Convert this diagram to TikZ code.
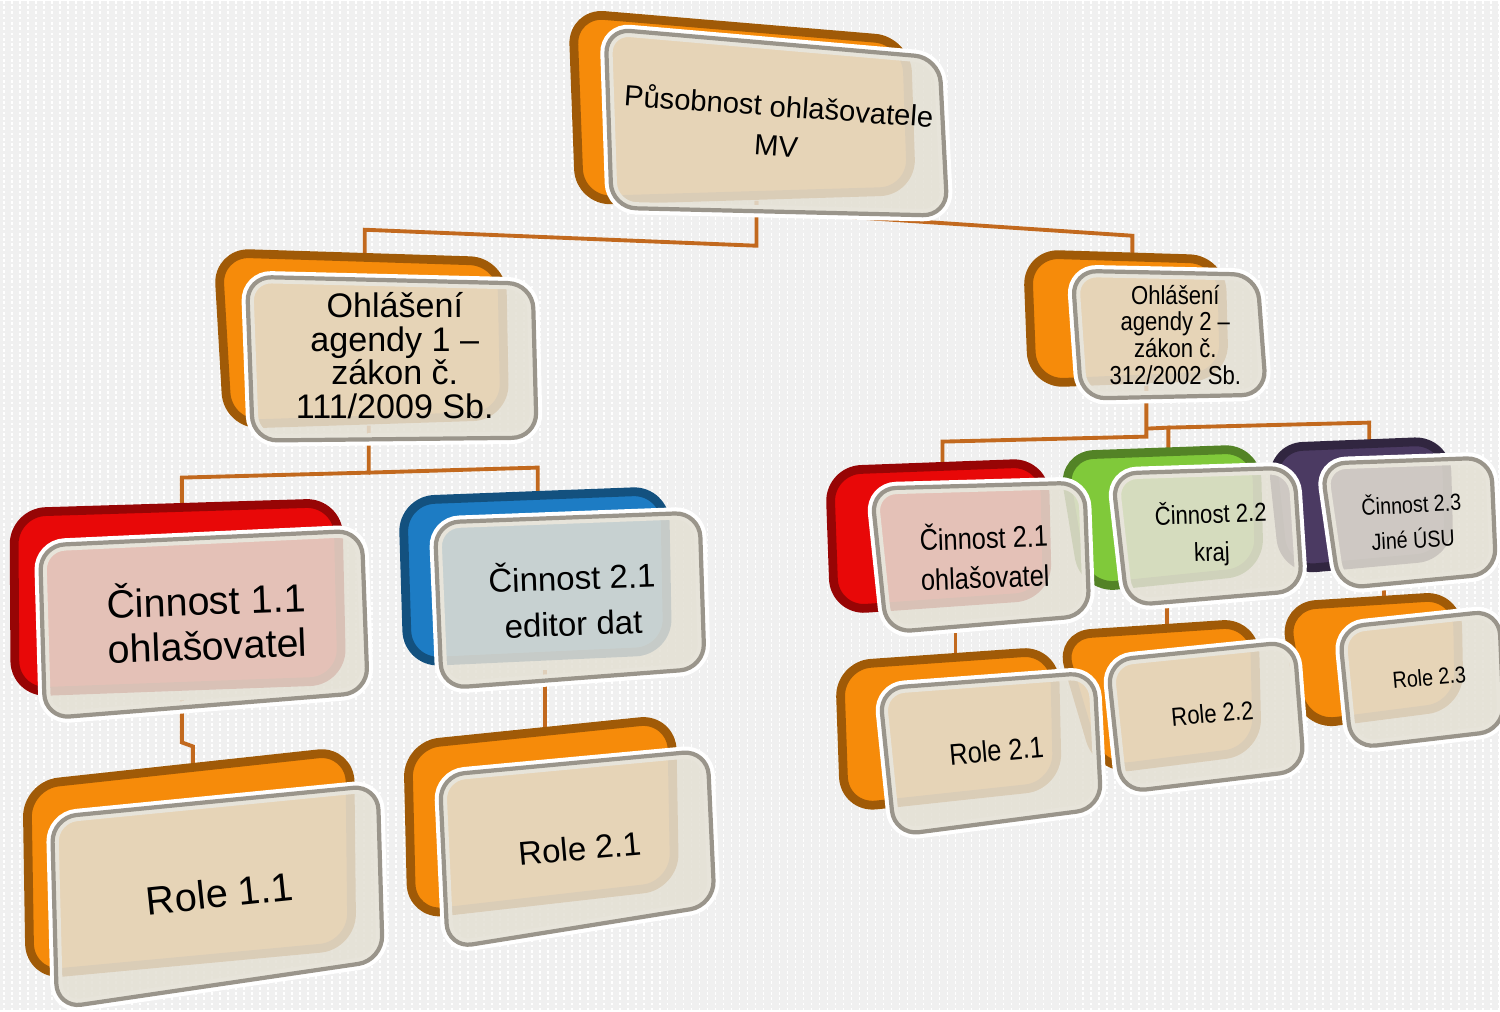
\documentclass[tikz,border=0pt]{standalone}
\usepackage{fontspec}
\setmainfont{Liberation Sans}
\newfontfamily\etroit[FakeStretch=0.85,Ligatures=TeX]{Liberation Sans}
\definecolor{fond}{HTML}{F0F0F0}
\definecolor{lien}{HTML}{C2691E}
\definecolor{orangeA}{HTML}{F68B0A}
\definecolor{rougeA}{HTML}{E80808}
\definecolor{bleuA}{HTML}{1D7CC4}
\definecolor{vertA}{HTML}{80C93A}
\definecolor{violetA}{HTML}{4B3A62}
\definecolor{beige}{HTML}{E4E0D4}
\definecolor{bord}{HTML}{9A958B}
\begin{document}
\begin{tikzpicture}[x=0.01cm,y=-0.01cm]
\tikzset{
  dos/.style={fill=#1, draw=#1!65!black, line width=2.5pt, rounded corners=9pt},
  face/.style={preaction={draw=white, line width=3.5pt}, fill=beige, fill opacity=0.86,
    draw=bord, line width=1.2pt, rounded corners=7pt},
  txt/.style={align=center, inner sep=0pt, text=black},
  trait/.style={draw=lien, line width=1.1pt},
}

 % le fond
  \fill[fond] (0,0) rectangle (1500,1010);
  \foreach \x in {4,12,...,1500}
    \draw[white, line width=0.5pt, dash pattern=on 0.8pt off 0.7pt] (\x,0) -- (\x,1010);
  \useasboundingbox (0,0) rectangle (1500,1010);

 % points d'attache
  \coordinate (root-b) at (757,200);
  \coordinate (agA-t) at (365,262);  \coordinate (agA-b) at (369,425);
  \coordinate (agB-t) at (1133,262); \coordinate (agB-b) at (1147,385);
  \coordinate (c11-t) at (182,515);  \coordinate (c11-b) at (182,700);
  \coordinate (c21-t) at (538,505);  \coordinate (c21-b) at (545,670);
  \coordinate (r11-t) at (193,775);  \coordinate (r21-t) at (545,740);
  \coordinate (d21-t) at (943,475);  \coordinate (d21-b) at (956,620);
  \coordinate (d22-t) at (1169,460); \coordinate (d22-b) at (1168,595);
  \coordinate (d23-t) at (1370,450); \coordinate (d23-b) at (1385,578);
  \coordinate (s21-t) at (956,665);  \coordinate (s22-t) at (1168,640);
  \coordinate (s23-t) at (1385,610);

 % les liens
  \draw[trait] (root-b) -- (757,245) -- (365,229) -- (agA-t);
  \draw[trait] (root-b) -- ++(0,10) -- (1133,235) -- (agB-t);
  \draw[trait] (agA-b) -- (369,472) -- (182,477) -- (c11-t);
  \draw[trait] (369,472) -- (538,467) -- (c21-t);
  \draw[trait] (c11-b) -- (182,742) -- (193,746) -- (r11-t);
  \draw[trait] (c21-b) -- (r21-t);
  \draw[trait] (agB-b) -- (1147,436) -- (943,441) -- (d21-t);
  \draw[trait] (1147,428) -- (1169,427) -- (d22-t);
  \draw[trait] (1169,427) -- (1370,422) -- (d23-t);
  \draw[trait] (d21-b) -- (s21-t);
  \draw[trait] (d22-b) -- (s22-t);
  \draw[trait] (d23-b) -- (s23-t);

 % dos colorés
  \filldraw[dos=orangeA] (573,12) -- (907,40) -- (912,190) -- (580,200) -- cycle;
  \filldraw[dos=orangeA] (218,252) -- (502,261) -- (505,415) -- (228,424) -- cycle;
  \filldraw[dos=orangeA] (1028,253) -- (1222,259) -- (1225,375) -- (1033,383) -- cycle;
  \filldraw[dos=rougeA] (14,512) -- (338,502) -- (342,680) -- (15,692) -- cycle;
  \filldraw[dos=bleuA] (403,500) -- (665,490) -- (668,650) -- (408,662) -- cycle;
  \filldraw[dos=orangeA] (27,785) -- (350,750) -- (352,945) -- (30,975) -- cycle;
  \filldraw[dos=orangeA] (408,745) -- (672,718) -- (675,885) -- (412,915) -- cycle;
  \filldraw[dos=rougeA] (830,470) -- (1045,462) -- (1048,595) -- (835,610) -- cycle;
  \filldraw[dos=vertA] (1063,455) -- (1257,448) -- (1260,570) -- (1085,588) -- cycle;
  \filldraw[dos=violetA] (1272,447) -- (1447,440) -- (1450,555) -- (1285,570) -- cycle;
  \filldraw[dos=orangeA] (840,665) -- (1055,650) -- (1058,785) -- (845,808) -- cycle;
  \filldraw[dos=orangeA] (1060,635) -- (1255,622) -- (1258,750) -- (1100,770) -- cycle;
  \filldraw[dos=orangeA] (1285,606) -- (1458,595) -- (1460,705) -- (1305,725) -- cycle;

 % faces claires
  \filldraw[face] (606,28) -- (940,57) -- (948,215) -- (612,207) -- cycle;
  \filldraw[face] (247,276) -- (533,283) -- (537,437) -- (253,440) -- cycle;
  \filldraw[face] (1073,270) -- (1258,274) -- (1267,394) -- (1082,398) -- cycle;
  \filldraw[face] (40,545) -- (362,530) -- (368,692) -- (45,718) -- cycle;
  \filldraw[face] (435,522) -- (700,512) -- (705,668) -- (442,688) -- cycle;
  \filldraw[face] (52,817) -- (378,785) -- (383,960) -- (57,1008) -- cycle;
  \filldraw[face] (440,775) -- (708,750) -- (715,905) -- (448,948) -- cycle;
  \filldraw[face] (872,488) -- (1085,482) -- (1090,615) -- (887,632) -- cycle;
  \filldraw[face] (1113,473) -- (1295,467) -- (1303,590) -- (1128,605) -- cycle;
  \filldraw[face] (1322,463) -- (1492,457) -- (1497,573) -- (1340,588) -- cycle;
  \filldraw[face] (880,688) -- (1095,672) -- (1102,808) -- (895,835) -- cycle;
  \filldraw[face] (1108,660) -- (1295,641) -- (1305,770) -- (1122,792) -- cycle;
  \filldraw[face] (1340,627) -- (1500,610) -- (1505,730) -- (1352,748) -- cycle;

 % les textes
  \node[txt, rotate=-4, font=\fontsize{8.3}{11.3}\selectfont] (root) at (778,124) {Působnost ohlašovatele\\MV};
  \node[txt, font=\fontsize{9.7}{9.6}\selectfont] (agA) at (395,355) {Ohlášení\\agendy 1 –\\zákon č.\\111/2009 Sb.};
  \node[txt, font=\etroit\fontsize{7.4}{7.6}\selectfont] (agB) at (1176,334) {Ohlášení\\agendy 2 –\\zákon č.\\312/2002 Sb.};
  \node[txt, rotate=2, font=\fontsize{11.2}{12.8}\selectfont] (c11) at (207,620) {Činnost 1.1\\ohlašovatel};
  \node[txt, rotate=2, font=\fontsize{9.4}{13}\selectfont] (c21) at (573,598) {Činnost 2.1\\editor dat};
  \node[txt, rotate=6, font=\fontsize{11.3}{13}\selectfont] (r11) at (220,893) {Role 1.1};
  \node[txt, rotate=5, font=\fontsize{9.4}{11}\selectfont] (r21) at (580,848) {Role 2.1};
  \node[txt, rotate=2, font=\etroit\fontsize{8.5}{11.3}\selectfont] (d21) at (985,555) {Činnost 2.1\\ohlašovatel};
  \node[txt, rotate=2, font=\etroit\fontsize{7.4}{10.8}\selectfont] (d22) at (1212,533) {Činnost 2.2\\kraj};
  \node[txt, rotate=3, font=\etroit\fontsize{6.6}{10}\selectfont] (d23) at (1413,520) {Činnost 2.3\\Jiné ÚSU};
  \node[txt, rotate=5, font=\etroit\fontsize{8.5}{10}\selectfont] (s21) at (997,750) {Role 2.1};
  \node[txt, rotate=5, font=\etroit\fontsize{7.4}{10}\selectfont] (s22) at (1213,713) {Role 2.2};
  \node[txt, rotate=5, font=\etroit\fontsize{6.6}{10}\selectfont] (s23) at (1430,677) {Role 2.3};
\end{tikzpicture}
\end{document}
